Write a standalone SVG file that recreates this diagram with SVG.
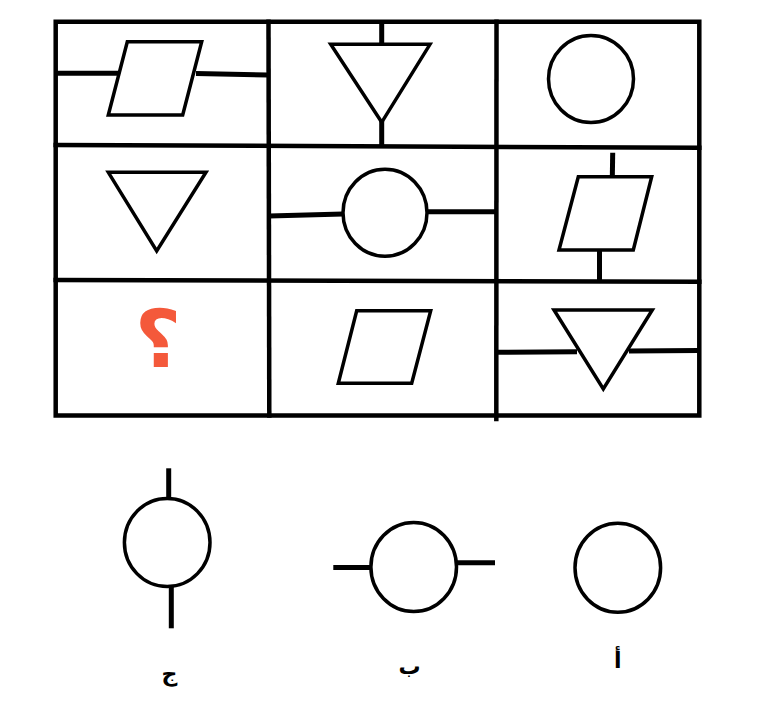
<svg xmlns="http://www.w3.org/2000/svg" width="766" height="716" viewBox="0 0 766 716">
  <style>
    .grid { stroke: #000; stroke-width: 4.5; fill: none; stroke-linecap: square; }
    .shape { stroke: #000; stroke-width: 3.5; fill: #fff; stroke-linejoin: miter; }
    .stem { stroke: #000; stroke-width: 5; fill: none; }
    .lbl { font-family: "DejaVu Sans", sans-serif; font-size: 22px; font-weight: bold; fill: #000; text-anchor: middle; }
    .q { font-family: "DejaVu Sans", sans-serif; font-size: 80px; font-weight: bold; fill: #f4593b; text-anchor: middle; }
  </style>
  <rect width="766" height="716" fill="#fff"/>

  <g id="grid">
    <polygon class="grid" points="55.7,21.7 699.3,21.7 699.3,415.5 55.7,415.5"/>
    <line class="grid" x1="55.7" y1="145" x2="699.3" y2="147.7"/>
    <line class="grid" x1="55.7" y1="280" x2="699.3" y2="281.7"/>
    <line class="grid" x1="268.5" y1="21.7" x2="269.3" y2="415.5"/>
    <line class="grid" x1="496.5" y1="21.7" x2="496.3" y2="419"/>
  </g>

  <g id="connectors">
    <line class="stem" x1="55.7" y1="73.3" x2="118" y2="73.3"/>
    <line class="stem" x1="196" y1="73.5" x2="268" y2="75"/>
    <line class="stem" x1="381.7" y1="21.7" x2="381.7" y2="45"/>
    <line class="stem" x1="381.7" y1="121" x2="381.7" y2="146"/>
    <line class="stem" x1="269" y1="216" x2="343" y2="214"/>
    <line class="stem" x1="427" y1="211.7" x2="496.5" y2="211.7"/>
    <line class="stem" x1="612.7" y1="152.7" x2="612.3" y2="178"/>
    <line class="stem" x1="599.5" y1="250" x2="599.5" y2="281"/>
    <line class="stem" x1="496.5" y1="352.3" x2="577" y2="351.8"/>
    <line class="stem" x1="629" y1="351" x2="699.3" y2="350.5"/>
    <line class="stem" x1="168.7" y1="468.3" x2="168.7" y2="499"/>
    <line class="stem" x1="171.3" y1="586" x2="171.3" y2="628.3"/>
    <line class="stem" x1="333.3" y1="567.5" x2="371.5" y2="567.5"/>
    <line class="stem" x1="456" y1="562.7" x2="495" y2="562.7"/>
  </g>

  <g id="cell-1-1">
    <polygon class="shape" points="127.3,41.7 201.7,41.7 182.7,115 108.3,115"/>
  </g>
  <g id="cell-1-2">
    <polygon class="shape" points="330.7,44.3 430,44.3 381.7,122.3"/>
  </g>
  <g id="cell-1-3">
    <ellipse class="shape" cx="591" cy="79" rx="42.5" ry="43.5"/>
  </g>
  <g id="cell-2-1">
    <polygon class="shape" points="108.3,172.3 206,172.3 156.7,251"/>
  </g>
  <g id="cell-2-2">
    <ellipse class="shape" cx="385" cy="212.7" rx="42" ry="43.5"/>
  </g>
  <g id="cell-2-3">
    <polygon class="shape" points="578.3,176.7 651.7,176.7 633.3,250 559,250"/>
  </g>
  <g id="cell-3-1">
    <text class="q" x="158" y="367">؟</text>
  </g>
  <g id="cell-3-2">
    <polygon class="shape" points="356.7,310.7 430.7,310.7 411.7,383.3 338.3,383.3"/>
  </g>
  <g id="cell-3-3">
    <polygon class="shape" points="554,310 652.3,310 603.3,389"/>
  </g>

  <g id="option-jim">
    <ellipse class="shape" cx="167.2" cy="542.5" rx="42.8" ry="44"/>
    <text class="lbl" x="169.5" y="681">ج</text>
  </g>
  <g id="option-ba">
    <ellipse class="shape" cx="413.7" cy="567" rx="42.8" ry="44.5"/>
    <text class="lbl" x="409.5" y="674">ب</text>
  </g>
  <g id="option-alif">
    <ellipse class="shape" cx="617.8" cy="567.8" rx="42.8" ry="44.5"/>
    <text class="lbl" x="617.7" y="668">أ</text>
  </g>
</svg>
